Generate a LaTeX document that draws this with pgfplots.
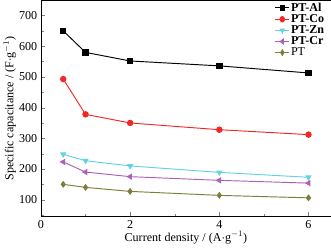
\documentclass[border=0pt]{standalone}
\usepackage{pgfplots}
\pgfplotsset{compat=1.18}
\usepackage{fontspec}
\setmainfont{Liberation Serif}
\definecolor{cAl}{RGB}{0,0,0}
\definecolor{cCo}{RGB}{240,40,40}
\definecolor{cZn}{RGB}{100,210,225}
\definecolor{cCr}{RGB}{175,95,185}
\definecolor{cPT}{RGB}{125,125,60}
\begin{document}
\begin{tikzpicture}
\begin{axis}[
  scale only axis,
  width=276pt, height=206pt,
  xmin=0, xmax=6.5, ymin=45, ymax=750,
  xtick={0,2,4,6}, minor xtick={1,3,5},
  ytick={100,200,...,700}, minor ytick={50,150,...,750},
  tick align=inside,
  major tick length=4pt, minor tick length=2.5pt,
  xtick pos=bottom, ytick pos=left,
  /pgf/number format/assume math mode=true,
  tick label style={font=\fontsize{11.5}{13}\selectfont},
  label style={font=\fontsize{11.5}{13}\selectfont},
  xlabel={Current density / (A$\cdot$g$^{-1}$)},
  ylabel={Specific capacitance / (F$\cdot$g$^{-1}$)},
  xlabel style={yshift=4pt},
  ylabel style={yshift=-4pt},
  legend style={draw=none, fill=none, at={(0.985,0.998)}, anchor=north east,
    font=\fontsize{11.5}{12}\selectfont, row sep=-0.5pt, inner sep=1pt,
    nodes={inner sep=1pt}},
  legend image post style={xscale=0.8},
  legend cell align=left,
  every axis plot/.append style={line width=0.9pt, mark size=2.6pt},
]
\addplot[cAl, mark=square*] coordinates {(0.5,650) (1,580) (2,552) (4,536) (6,513)};
\addlegendentry{\textbf{PT-Al}}
\addplot[cCo, mark=*] coordinates {(0.5,493) (1,378) (2,350) (4,328) (6,312)};
\addlegendentry{\textbf{PT-Co}}
\addplot[cZn, mark=triangle*, mark options={rotate=180}] coordinates {(0.5,248) (1,227) (2,210) (4,189) (6,173)};
\addlegendentry{\textbf{PT-Zn}}
\addplot[cCr, mark=triangle*, mark options={rotate=90}] coordinates {(0.5,223) (1,190) (2,175) (4,163) (6,154)};
\addlegendentry{\textbf{PT-Cr}}
\addplot[cPT, mark=diamond*] coordinates {(0.5,150) (1,140) (2,127) (4,114) (6,106)};
\addlegendentry{PT}
\end{axis}
\end{tikzpicture}
\end{document}
